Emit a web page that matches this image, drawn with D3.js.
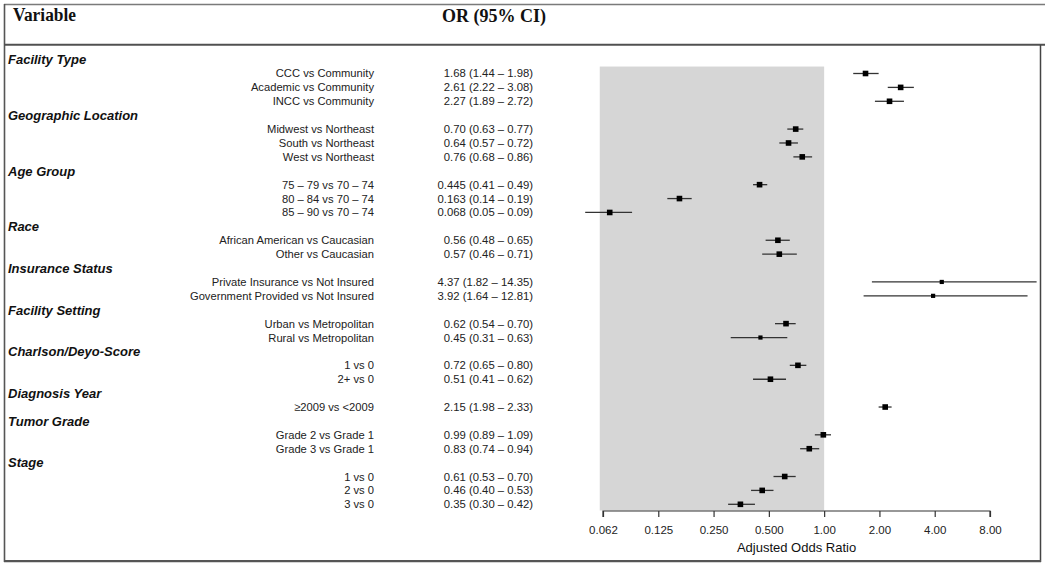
<!DOCTYPE html>
<html>
<head>
<meta charset="utf-8">
<script src="https://cdn.jsdelivr.net/npm/d3@7"></script>
<style>
  html, body { margin: 0; padding: 0; background: #fff; }
  svg { display: block; }
</style>
</head>
<body>
<svg id="chart" width="1049" height="565"></svg>
<script>
// ---- Data ----
const groups = [
  "Facility Type", "Geographic Location", "Age Group", "Race", "Insurance Status",
  "Facility Setting", "Charlson/Deyo-Score", "Diagnosis Year", "Tumor Grade", "Stage"
];
const itemGroup = [0,0,0, 1,1,1, 2,2,2, 3,3, 4,4, 5,5, 6,6, 7, 8,8, 9,9,9];
const itemLabels = [
  "CCC vs Community", "Academic vs Community", "INCC vs Community",
  "Midwest vs Northeast", "South vs Northeast", "West vs Northeast",
  "75 – 79 vs 70 – 74", "80 – 84 vs 70 – 74", "85 – 90 vs 70 – 74",
  "African American vs Caucasian", "Other vs Caucasian",
  "Private Insurance vs Not Insured", "Government Provided vs Not Insured",
  "Urban vs Metropolitan", "Rural vs Metropolitan",
  "1 vs 0", "2+ vs 0",
  "≥2009 vs <2009",
  "Grade 2 vs Grade 1", "Grade 3 vs Grade 1",
  "1 vs 0", "2 vs 0", "3 vs 0"
];
const orValues = [1.68, 2.61, 2.27, 0.70, 0.64, 0.76, 0.445, 0.163, 0.068, 0.56, 0.57,
  4.37, 3.92, 0.62, 0.45, 0.72, 0.51, 2.15, 0.99, 0.83, 0.61, 0.46, 0.35];
const orText = ["1.68", "2.61", "2.27", "0.70", "0.64", "0.76", "0.445", "0.163", "0.068", "0.56", "0.57",
  "4.37", "3.92", "0.62", "0.45", "0.72", "0.51", "2.15", "0.99", "0.83", "0.61", "0.46", "0.35"];
const ciLow = [1.44, 2.22, 1.89, 0.63, 0.57, 0.68, 0.41, 0.14, 0.05, 0.48, 0.46,
  1.82, 1.64, 0.54, 0.31, 0.65, 0.41, 1.98, 0.89, 0.74, 0.53, 0.40, 0.30];
const ciHigh = [1.98, 3.08, 2.72, 0.77, 0.72, 0.86, 0.49, 0.19, 0.09, 0.65, 0.71,
  14.35, 12.81, 0.70, 0.63, 0.80, 0.62, 2.33, 1.09, 0.94, 0.70, 0.53, 0.42];
const ciLowText = ["1.44", "2.22", "1.89", "0.63", "0.57", "0.68", "0.41", "0.14", "0.05", "0.48", "0.46",
  "1.82", "1.64", "0.54", "0.31", "0.65", "0.41", "1.98", "0.89", "0.74", "0.53", "0.40", "0.30"];
const ciHighText = ["1.98", "3.08", "2.72", "0.77", "0.72", "0.86", "0.49", "0.19", "0.09", "0.65", "0.71",
  "14.35", "12.81", "0.70", "0.63", "0.80", "0.62", "2.33", "1.09", "0.94", "0.70", "0.53", "0.42"];
const tickValues = [0.0625, 0.125, 0.25, 0.5, 1, 2, 4, 8];
const tickLabels = ["0.062", "0.125", "0.250", "0.500", "1.00", "2.00", "4.00", "8.00"];
const shadeRange = [0.06, 1];

// ---- Build rows ----
const rows = [];
groups.forEach((g, gi) => {
  rows.push({ type: "group", label: g });
  itemGroup.forEach((ig, i) => {
    if (ig === gi) rows.push({ type: "item", i });
  });
});

const svg = d3.select("#chart");

const y = d3.scalePoint().domain(d3.range(rows.length)).range([59.6, 504.3]);
const x = d3.scaleLog().base(2).domain([0.0625, 8]).range([603, 990]);

// ---- Frame ----
const frame = svg.append("g").attr("fill", "none");
frame.append("line").attr("x1", 4).attr("x2", 1045).attr("y1", 4.5).attr("y2", 4.5)
  .attr("stroke", "#7a7a7a").attr("stroke-width", 1.4);
frame.append("line").attr("x1", 4.5).attr("x2", 4.5).attr("y1", 4).attr("y2", 562)
  .attr("stroke", "#555").attr("stroke-width", 1.6);
frame.append("line").attr("x1", 4).attr("x2", 1045).attr("y1", 44.8).attr("y2", 44.8)
  .attr("stroke", "#505050").attr("stroke-width", 2);
frame.append("line").attr("x1", 1040.5).attr("x2", 1040.5).attr("y1", 45).attr("y2", 562)
  .attr("stroke", "#444").attr("stroke-width", 1.5);
frame.append("line").attr("x1", 4).attr("x2", 1041).attr("y1", 561.2).attr("y2", 561.2)
  .attr("stroke", "#555").attr("stroke-width", 2.2);

// ---- Header ----
svg.append("text").attr("x", 13).attr("y", 21)
  .attr("font-family", "Liberation Serif, 'Times New Roman', serif")
  .attr("font-weight", "bold").attr("font-size", 18).attr("fill", "#111")
  .attr("textLength", 63).attr("lengthAdjust", "spacingAndGlyphs")
  .text("Variable");
svg.append("text").attr("x", 442).attr("y", 21.5)
  .attr("font-family", "Liberation Serif, 'Times New Roman', serif")
  .attr("font-weight", "bold").attr("font-size", 18).attr("fill", "#111")
  .attr("textLength", 104).attr("lengthAdjust", "spacingAndGlyphs")
  .text("OR (95% CI)");

// ---- Shaded region ----
const step = y.step();
svg.append("rect")
  .attr("x", x(shadeRange[0])).attr("width", x(shadeRange[1]) - x(shadeRange[0]))
  .attr("y", y(0) + step / 2).attr("height", 510.5 - (y(0) + step / 2))
  .attr("fill", "#d6d6d6");

// ---- Rows ----
const rowG = svg.append("g");
rows.forEach((r, k) => {
  const yy = y(k);
  if (r.type === "group") {
    rowG.append("text").attr("x", 8).attr("y", yy + 4.8)
      .attr("font-family", "Liberation Sans, Arial, sans-serif")
      .attr("font-weight", "bold").attr("font-style", "italic")
      .attr("font-size", 13).attr("fill", "#111").text(r.label);
  } else {
    const i = r.i;
    rowG.append("text").attr("x", 374).attr("y", yy + 4).attr("text-anchor", "end")
      .attr("font-family", "Liberation Sans, Arial, sans-serif")
      .attr("font-size", 11.2).attr("fill", "#222").text(itemLabels[i]);
    rowG.append("text").attr("x", 533).attr("y", yy + 4).attr("text-anchor", "end")
      .attr("font-family", "Liberation Sans, Arial, sans-serif")
      .attr("font-size", 11.3).attr("fill", "#222")
      .text(`${orText[i]} (${ciLowText[i]} – ${ciHighText[i]})`);
    // CI line
    rowG.append("line")
      .attr("x1", x(ciLow[i])).attr("x2", x(ciHigh[i]))
      .attr("y1", yy).attr("y2", yy)
      .attr("stroke", "#333").attr("stroke-width", 1.3);
    // box: smaller for wide intervals
    const w = Math.log2(ciHigh[i] / ciLow[i]);
    const s = w > 0.95 ? 4.2 : 5.6;
    rowG.append("rect")
      .attr("x", x(orValues[i]) - s / 2).attr("y", yy - s / 2)
      .attr("width", s).attr("height", s).attr("fill", "#000");
  }
});

// ---- Axis ----
const axis = d3.axisBottom(x).tickValues(tickValues)
  .tickFormat((d, i) => tickLabels[i]).tickSize(6).tickPadding(9);
const ax = svg.append("g").attr("transform", "translate(0,511)").call(axis);
ax.select(".domain").attr("stroke", "#333").attr("stroke-width", 1.2)
  .attr("d", `M${x(tickValues[0])},6V0H${x(tickValues[tickValues.length - 1])}V6`);
ax.selectAll(".tick line").attr("stroke", "#333").attr("stroke-width", 1.2);
ax.selectAll(".tick text")
  .attr("font-family", "Liberation Sans, Arial, sans-serif")
  .attr("font-size", 11.5).attr("fill", "#222");

svg.append("text").attr("x", (x(0.0625) + x(8)) / 2).attr("y", 552).attr("text-anchor", "middle")
  .attr("font-family", "Liberation Sans, Arial, sans-serif")
  .attr("font-size", 13).attr("fill", "#111").text("Adjusted Odds Ratio");
</script>
</body>
</html>
